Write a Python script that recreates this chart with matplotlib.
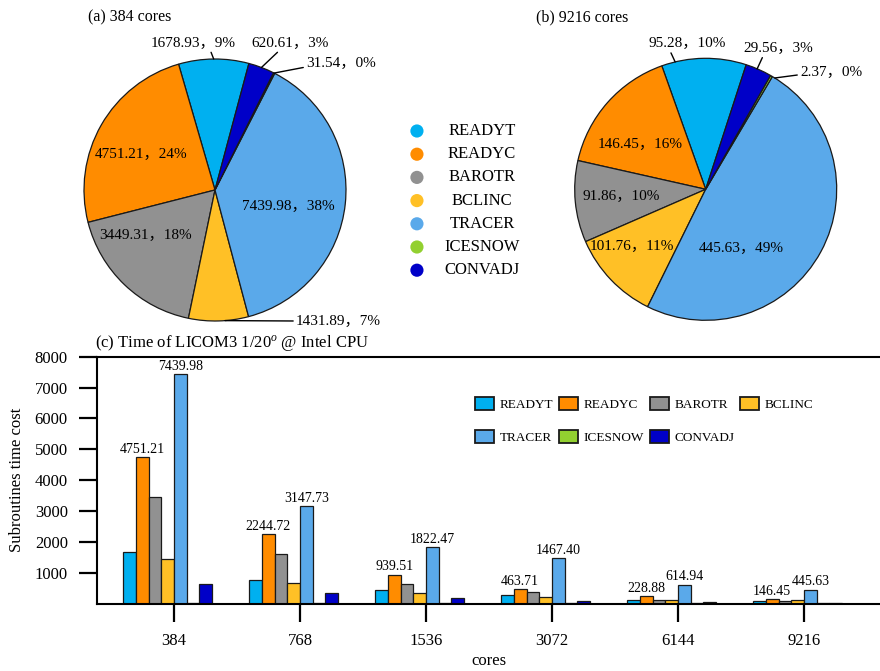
import matplotlib
matplotlib.use('Agg')
import matplotlib.pyplot as plt
import numpy as np

plt.rcParams['font.family'] = ['Liberation Serif', 'Noto Sans CJK SC']
plt.rcParams['mathtext.fontset'] = 'custom'
plt.rcParams['mathtext.rm'] = 'Liberation Serif'
plt.rcParams['mathtext.it'] = 'Liberation Serif:italic'

# ---------------- data ----------------
cores = ['384', '768', '1536', '3072', '6144', '9216']
subroutines = ['READYT', 'READYC', 'BAROTR', 'BCLINC', 'TRACER', 'ICESNOW', 'CONVADJ']
readyt = [1678.93, 770, 440, 270, 125, 95.28]
readyc = [4751.21, 2244.72, 939.51, 463.71, 228.88, 146.45]
barotr = [3449.31, 1600, 630, 375, 120, 91.86]
bclinc = [1431.89, 680, 350, 215, 105, 101.76]
tracer = [7439.98, 3147.73, 1822.47, 1467.40, 614.94, 445.63]
icesnow = [31.54, 15, 8, 5, 3.5, 2.37]
convadj = [620.61, 350, 170, 80, 40, 29.56]
series = [readyt, readyc, barotr, bclinc, tracer, icesnow, convadj]
labelled_series = [1, 4]  # READYC, TRACER values printed above bars

colors = ['#00B0F0', '#FF8C00', '#919191', '#FFC026', '#5AA9EA', '#92D030', '#0000C8']

W, H = 880, 671
fig = plt.figure(figsize=(W / 100, H / 100), dpi=100)

# ---------------- pies ----------------
HALF = 1.45
R_PX = 131


def pie_axes(cx, cy):
    s = HALF * R_PX
    return fig.add_axes([(cx - s) / W, 1 - (cy + s) / H, 2 * s / W, 2 * s / H])


def draw_pie(ax, values, startangle, inside, outside):
    total = sum(values)
    wedges, _ = ax.pie(values, colors=colors, startangle=startangle, counterclock=True,
                       radius=1, wedgeprops=dict(edgecolor='#1a1a1a', linewidth=0.9))
    ax.set_xlim(-HALF, HALF)
    ax.set_ylim(-HALF, HALF)
    ax.set_aspect('equal')
    ax.axis('off')
    texts = [f"{v:.2f}，{round(v / total * 100):d}%" for v in values]
    for i, (tx, ty) in inside.items():
        ax.text(tx, ty, texts[i], ha='center', va='center', fontsize=11)
    for i, (dang, tx, ty, ha, rel) in outside.items():
        w = wedges[i]
        ang = np.deg2rad((w.theta1 + w.theta2) / 2 + dang)
        ax.annotate(texts[i], xy=(np.cos(ang), np.sin(ang)), xytext=(tx, ty),
                    ha=ha, va='center', fontsize=11,
                    arrowprops=dict(arrowstyle='-', color='black', lw=1.0,
                                    shrinkA=0, shrinkB=0, relpos=rel))


ax_a = pie_axes(215, 190)
draw_pie(ax_a, [s[0] for s in series], 75,
         inside={1: (-0.565, 0.275), 2: (-0.532, -0.344), 4: (0.56, -0.127)},
         outside={0: (0, -0.168, 1.122, 'center', (0.7, 0.0)),
                  6: (0, 0.573, 1.122, 'center', (0.375, 0.0)),
                  5: (0, 0.695, 0.969, 'left', (0.0, 0.2)),
                  3: (2.8, 0.618, -1.0, 'left', (0.0, 0.5))})

ax_b = pie_axes(705.7, 189.3)
draw_pie(ax_b, [s[5] for s in series], 72,
         inside={1: (-0.498, 0.346), 2: (-0.647, -0.051), 3: (-0.565, -0.433), 4: (0.275, -0.45)},
         outside={0: (12.7, -0.139, 1.112, 'center', (0.27, 0.0)),
                  6: (0.7, 0.554, 1.076, 'center', (0.29, 0.0)),
                  5: (-1.7, 0.72, 0.89, 'left', (0.0, 0.35))})

fig.text(88 / W, 1 - 17 / H, '(a) 384 cores', fontsize=11.5, va='center')
fig.text(536 / W, 1 - 17 / H, '(b) 9216 cores', fontsize=11.5, va='center')

# pie legend (markers + centred names)
ax_l = fig.add_axes([400 / W, 1 - 281.8 / H, 140 / W, (281.8 - 119.4) / H])
ax_l.set_xlim(0, 1)
ax_l.set_ylim(len(subroutines) - 0.5, -0.5)
ax_l.axis('off')
rows = np.arange(len(subroutines))
ax_l.scatter(np.full(len(rows), 0.121), rows, s=90, c=colors, edgecolors='none')
for r, name in zip(rows, subroutines):
    ax_l.text(0.586, r, name, ha='center', va='center', fontsize=12)

# ---------------- bar chart ----------------
ax = fig.add_axes([97 / W, 1 - 603.5 / H, (881 - 97) / W, (603.5 - 356.7) / H])
x = np.arange(len(cores))
bw = 0.101
containers = []
for i, (name, vals) in enumerate(zip(subroutines, series)):
    c = ax.bar(x + (i - 3.5) * bw, vals, bw, color=colors[i], edgecolor='#1a1a1a',
               linewidth=0.9, label=name)
    containers.append(c)
for i in labelled_series:
    ax.bar_label(containers[i], labels=[f"{v:.2f}" for v in series[i]], padding=1,
                 fontsize=10)

ax.set_xlim(-(174 - 97) / 126, 5 + (881 - 804) / 126)
ax.set_ylim(0, 8000)
ax.set_yticks(range(1000, 8001, 1000))
ax.set_xticks(x)
ax.set_xticklabels(cores)
ax.spines['right'].set_visible(False)
for sp in ['left', 'top', 'bottom']:
    ax.spines[sp].set_linewidth(1.5)
ax.tick_params(axis='both', direction='out', length=13, width=1.6, pad=8, labelsize=12)
ax.set_ylabel('Subroutines time cost', fontsize=12, labelpad=7)
ax.set_xlabel('cores', fontsize=12, labelpad=3)

# legend laid out row by row (matplotlib fills columns first)
order = [0, 4, 1, 5, 2, 6, 3]
leg = ax.legend([containers[k] for k in order], [subroutines[k] for k in order],
                ncol=4, frameon=False, loc='upper left',
                bbox_to_anchor=((475 - 97) / 784, (603.5 - 397) / 246.8),
                fontsize=9.5, handlelength=1.45, handleheight=1.15, handletextpad=0.45,
                columnspacing=0.4, labelspacing=1.45, borderpad=0, borderaxespad=0)
for h in leg.legend_handles:
    h.set_linewidth(1.3)

fig.text(95 / W, 1 - 343 / H, '(c) Time of LICOM3 1/20$^{o}$ @ Intel CPU', fontsize=12,
         va='center')

fig.savefig('out.png', dpi=100)
